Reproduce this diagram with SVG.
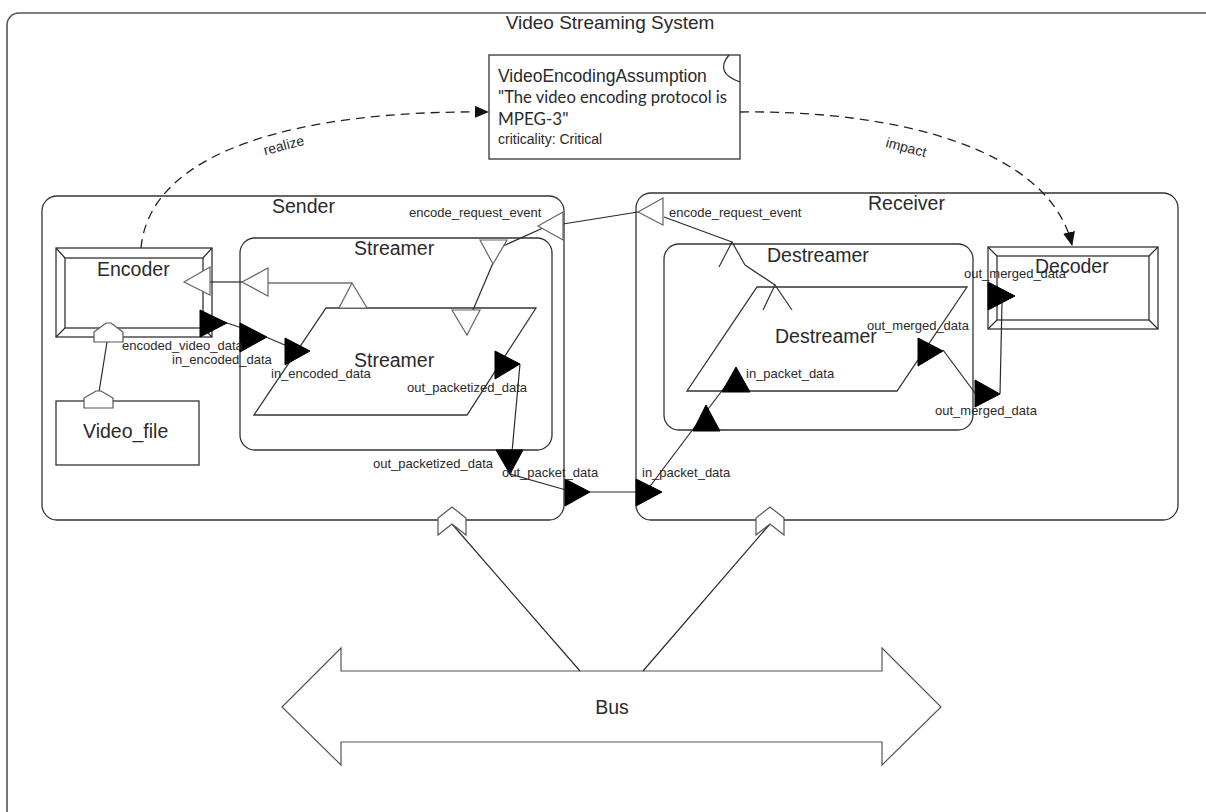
<svg xmlns="http://www.w3.org/2000/svg" width="1206" height="812" viewBox="0 0 1206 812">
  <style>
    .frame{fill:#fff;stroke:#555;stroke-width:1.6}
    .box{fill:#fff;stroke:#333;stroke-width:1.3}
    .ln{fill:none;stroke:#2a2a2a;stroke-width:1.2}
    .dash{fill:none;stroke:#222;stroke-width:1.3;stroke-dasharray:9 6}
    .evt{fill:#fff;stroke:#666;stroke-width:1.2}
    .evo{fill:none;stroke:#333;stroke-width:1.2}
    .port{fill:#000;stroke:#000;stroke-width:1}
    .bus{fill:#fff;stroke:#555;stroke-width:1.2}
    text{font-family:"Liberation Sans",Arial,sans-serif;fill:#2a2a2a}
    .big{font-size:19.5px}
    .sm{font-size:13px}
  </style>
  <defs>
    <marker id="head" markerWidth="14" markerHeight="12" refX="13" refY="6" orient="auto" markerUnits="userSpaceOnUse">
      <path d="M0,0 L14,6 L0,12 Z" fill="#111"/>
    </marker>
  </defs>

  <!-- system boundary -->
  <g id="system">
    <rect class="frame" x="7" y="13" width="1230" height="830" rx="12"/>
    <text x="610" y="29" text-anchor="middle" style="font-size:19px">Video Streaming System</text>
  </g>

  <!-- assumption note -->
  <g id="assumption">
    <rect class="box" x="489" y="55" width="251" height="104"/>
    <path class="ln" d="M729,55 Q714,73 740,82"/>
    <text x="498" y="82" style="font-size:17.5px">VideoEncodingAssumption</text>
    <text x="498" y="103" style="font-family:Lato,'Open Sans',sans-serif;font-size:17px" textLength="229" lengthAdjust="spacingAndGlyphs">"The video encoding protocol is</text>
    <text x="498" y="125" style="font-family:Lato,'Open Sans',sans-serif;font-size:17px">MPEG-3"</text>
    <text x="498" y="144" style="font-size:14px">criticality: Critical</text>
  </g>

  <!-- sender system -->
  <g id="sender">
    <rect class="box" x="42" y="196" width="522" height="324" rx="15"/>
    <text class="big" x="272" y="213">Sender</text>
  </g>

  <!-- receiver system -->
  <g id="receiver">
    <rect class="box" x="636" y="193" width="542" height="327" rx="15"/>
    <text class="big" x="868" y="210">Receiver</text>
  </g>

  <!-- encoder device -->
  <g id="encoder">
    <rect class="box" x="56" y="248" width="156" height="89"/>
    <rect class="box" x="65" y="258" width="138" height="70"/>
    <path class="ln" d="M56,248 L65,258 M212,248 L203,258 M56,337 L65,328 M212,337 L203,328"/>
    <text class="big" x="97" y="276">Encoder</text>
  </g>

  <!-- video file -->
  <g id="video_file">
    <rect class="box" x="56" y="401" width="143" height="64"/>
    <text class="big" x="83" y="438">Video_file</text>
  </g>

  <!-- streamer process container -->
  <g id="streamer_container">
    <rect class="box" x="240" y="238" width="312" height="212" rx="15"/>
    <text class="big" x="354" y="255">Streamer</text>
  </g>

  <!-- streamer thread -->
  <g id="streamer_thread">
    <polygon class="box" points="326,308 536,308 467,415 254,415"/>
    <text class="big" x="354" y="367">Streamer</text>
  </g>

  <!-- destreamer process container -->
  <g id="destreamer_container">
    <rect class="box" x="664" y="244" width="309" height="186" rx="15"/>
    <text class="big" x="767" y="262">Destreamer</text>
  </g>

  <!-- destreamer thread -->
  <g id="destreamer_thread">
    <polygon class="box" points="757,287 967,287 897,391 687,391"/>
    <text class="big" x="775" y="343">Destreamer</text>
  </g>

  <!-- decoder device -->
  <g id="decoder">
    <rect class="box" x="988" y="247" width="170" height="82"/>
    <rect class="box" x="997" y="256" width="152" height="64"/>
    <path class="ln" d="M988,247 L997,256 M1158,247 L1149,256 M988,329 L997,320 M1158,329 L1149,320"/>
    <text class="big" x="1035" y="273">Decoder</text>
  </g>

  <!-- bus -->
  <g id="bus">
    <polygon class="bus" points="282,707 341,648 341,671 882,671 882,648 941,707 882,765 882,742 341,742 341,765"/>
    <text class="big" x="612" y="714" text-anchor="middle">Bus</text>
  </g>

  <!-- connectors -->
  <g id="connectors">
    <!-- realize / impact -->
    <path class="dash" d="M141,248 C150,150 300,110 488,112" marker-end="url(#head)"/>
    <path class="dash" d="M740,112 C900,110 1050,150 1072,245" marker-end="url(#head)"/>
    <!-- bus access -->
    <line class="ln" x1="107" y1="342" x2="99" y2="392"/>
    <line class="ln" x1="452" y1="524" x2="580" y2="671"/>
    <line class="ln" x1="770" y1="524" x2="643" y2="671"/>
    <!-- event: encode request (sender side) -->
    <line class="ln" x1="210" y1="282" x2="242" y2="282"/>
    <line class="ln" x1="268" y1="283" x2="352" y2="283"/>
    <line class="ln" x1="543" y1="228" x2="503" y2="246"/>
    <line class="ln" x1="493" y1="263" x2="473" y2="310"/>
    <line class="ln" x1="563" y1="224" x2="638" y2="212"/>
    <!-- event: encode request (receiver side) -->
    <line class="ln" x1="664" y1="217" x2="732" y2="242"/>
    <line class="ln" x1="745" y1="265" x2="775" y2="285"/>
    <!-- data flow -->
    <line class="ln" x1="224" y1="322" x2="242" y2="328"/>
    <line class="ln" x1="266" y1="337" x2="287" y2="346"/>
    <polyline class="ln" points="520,364 510,474 566,490"/>
    <line class="ln" x1="590" y1="492" x2="636" y2="492"/>
    <line class="ln" x1="648" y1="489" x2="736" y2="372"/>
    <line class="ln" x1="943" y1="350" x2="975" y2="393"/>
    <polyline class="ln" points="1000,394 1002,302"/>
  </g>

  <!-- ports -->
  <g id="ports">
    <!-- bus access ports -->
    <path class="bus" d="M94,342 V332 L106,323 H111 L123,332 V342 Z"/>
    <path class="bus" d="M84,408 V398 L96,391 H101 L113,398 V408 Z"/>
    <polygon class="bus" points="438,535 438,518 452,507 466,518 466,535 452,524"/>
    <polygon class="bus" points="756,535 756,518 770,507 784,518 784,535 770,524"/>
    <!-- event ports -->
    <polygon class="evt" points="184,282 210,267 210,295"/>
    <polygon class="evt" points="242,282 268,268 268,296"/>
    <polygon class="evt" points="352,283 339,308 367,308"/>
    <polygon class="evt" points="480,240 507,240 493,264"/>
    <polygon class="evt" points="452,310 480,310 467,335"/>
    <polygon class="evt" points="538,226 563,212 563,240"/>
    <polygon class="evt" points="638,212 663,198 663,225"/>
    <polyline class="evo" points="719,267 732,242 745,265"/>
    <polyline class="evo" points="763,310 775,285 792,310"/>
    <!-- data ports -->
    <polygon class="port" points="200,310 227,323 200,337"/>
    <polygon class="port" points="240,323 267,337 240,352"/>
    <polygon class="port" points="285,338 310,351 285,365"/>
    <polygon class="port" points="495,351 520,364 495,379"/>
    <polygon class="port" points="496,450 523,450 510,474"/>
    <polygon class="port" points="565,479 590,492 565,506"/>
    <polygon class="port" points="636,479 662,492 636,506"/>
    <polygon class="port" points="693,431 720,431 706,405"/>
    <polygon class="port" points="722,392 750,392 736,367"/>
    <polygon class="port" points="918,338 943,351 918,366"/>
    <polygon class="port" points="975,380 1000,394 975,407"/>
    <polygon class="port" points="988,282 1015,296 988,310"/>
  </g>

  <!-- port and link labels -->
  <g id="labels">
    <text x="285" y="150" text-anchor="middle" transform="rotate(-15 285 150)" style="font-size:14px">realize</text>
    <text x="905" y="152" text-anchor="middle" transform="rotate(15 905 152)" style="font-size:14px">impact</text>
    <text class="sm" x="409" y="217">encode_request_event</text>
    <text class="sm" x="669" y="217">encode_request_event</text>
    <text class="sm" x="122" y="350">encoded_video_data</text>
    <text class="sm" x="172" y="364">in_encoded_data</text>
    <text class="sm" x="271" y="378">in_encoded_data</text>
    <text class="sm" x="407" y="392">out_packetized_data</text>
    <text class="sm" x="373" y="468">out_packetized_data</text>
    <text class="sm" x="502" y="477">out_packet_data</text>
    <text class="sm" x="642" y="477">in_packet_data</text>
    <text class="sm" x="746" y="378">in_packet_data</text>
    <text class="sm" x="867" y="330">out_merged_data</text>
    <text class="sm" x="935" y="415">out_merged_data</text>
    <text class="sm" x="964" y="278">out_merged_data</text>
  </g>
</svg>
